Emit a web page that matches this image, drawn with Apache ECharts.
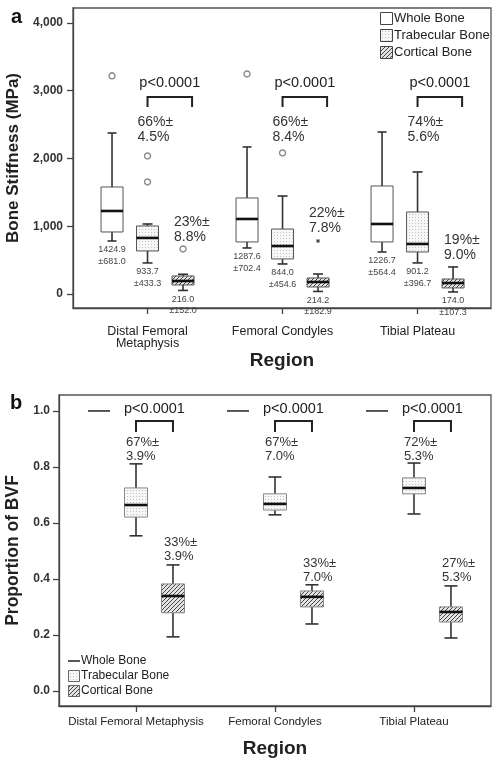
<!DOCTYPE html>
<html><head><meta charset="utf-8">
<script src="https://cdn.jsdelivr.net/npm/echarts@6/dist/echarts.min.js"></script>
<style>html,body{margin:0;padding:0;background:#fff}#c{width:500px;height:767px}</style>
</head><body><div id="c"></div>
<script>
// ---------------- DATA ----------------
const topCategories = ['Distal Femoral\nMetaphysis', 'Femoral Condyles', 'Tibial Plateau'];
const bottomCategories = ['Distal Femoral Metaphysis', 'Femoral Condyles', 'Tibial Plateau'];
const stiffnessTicks = [0, 1000, 2000, 3000, 4000];
const bvfTicks = [0, 0.2, 0.4, 0.6, 0.8, 1.0];
const groupNames = ['Whole Bone', 'Trabecular Bone', 'Cortical Bone'];

// box stats: [low whisker, q1, median, q3, high whisker]
const wholeStiffness = [[782, 915, 1225, 1579, 2376], [679, 768, 1107, 1417, 2170], [620, 768, 1033, 1594, 2391]];
const trabStiffness  = [[458, 635, 827, 1004, 1033], [443, 517, 708, 959, 1446], [458, 620, 738, 1210, 1801]];
const cortStiffness  = [[52, 133, 192, 266, 291], [37, 103, 177, 236, 295], [30, 89, 162, 221, 399]];

const wholeMean = [1424.9, 1287.6, 1226.7], wholeSD = [681.0, 702.4, 564.4];
const trabMean  = [933.7, 844.0, 901.2],   trabSD  = [433.3, 454.6, 396.7];
const cortMean  = [216.0, 214.2, 174.0],   cortSD  = [152.0, 182.9, 107.3];

// outliers: [category index, value]
const wholeOutliers = [[0, 3220], [1, 3247]];
const trabOutliers  = [[0, 2037], [0, 1653], [1, 2081]];
const cortOutliers  = [[0, 664]];
const cortExtremes  = [[1, 782]];

// percentages [mean %, sd %]
const trabPctStiff = [[66, 4.5], [66, 8.4], [74, 5.6]];
const cortPctStiff = [[23, 8.8], [22, 7.8], [19, 9.0]];
const pValues = ['p<0.0001', 'p<0.0001', 'p<0.0001'];

const wholeBVF = [1.0, 1.0, 1.0];
const trabBVF = [[0.554, 0.621, 0.664, 0.725, 0.811], [0.629, 0.646, 0.668, 0.704, 0.764], [0.632, 0.704, 0.725, 0.761, 0.814]];
const cortBVF = [[0.193, 0.279, 0.339, 0.382, 0.450], [0.239, 0.300, 0.336, 0.357, 0.379], [0.189, 0.246, 0.282, 0.300, 0.375]];
const trabPctBVF = [[67, 3.9], [67, 7.0], [72, 5.3]];
const cortPctBVF = [[33, 3.9], [33, 7.0], [27, 5.3]];

// ---------------- LAYOUT / STYLE ----------------
const FONT = '"Liberation Sans", Arial, sans-serif';
const OFF = 0.263;       // group offset in category units
const OFFB = 0.266;
// annotation anchors (data units)
const topAnno = { pY: 3114, brTop: 2908, brLeg: 2760, brRight: 0.33, trabY: 2539, cortY: [1063, 1195, 797], lh: 15, fs: 14 };
const botAnno = { pY: 1.007, brTop: 0.964, brLeg: 0.925, brRight: OFFB, trabY: 0.889, cortY: [0.529, 0.457, 0.457], lh: 14, fs: 13 };

function makePattern(kind) {
  const cv = document.createElement('canvas');
  if (kind === 'dots') {
    cv.width = 3; cv.height = 3;
    const c = cv.getContext('2d');
    c.fillStyle = '#f7f7f7'; c.fillRect(0, 0, 3, 3);
    c.fillStyle = '#c2c2c2'; c.fillRect(1, 1, 1, 1);
  } else {
    cv.width = 4; cv.height = 4;
    const c = cv.getContext('2d');
    c.fillStyle = '#e4e4e4'; c.fillRect(0, 0, 4, 4);
    c.strokeStyle = '#444'; c.lineWidth = 1;
    c.beginPath();
    c.moveTo(0, 4); c.lineTo(4, 0);
    c.moveTo(-1, 1); c.lineTo(1, -1);
    c.moveTo(3, 5); c.lineTo(5, 3);
    c.stroke();
  }
  return { image: cv, repeat: 'repeat' };
}
const DOTS = makePattern('dots');
const HATCH = makePattern('hatch');

function boxSeries(gi, stats, offset, o) {
  return {
    type: 'custom', xAxisIndex: gi, yAxisIndex: gi, clip: false, z: 3,
    data: stats.map((d, i) => [i, d[0], d[1], d[2], d[3], d[4]]),
    encode: { x: 0, y: [1, 2, 3, 4, 5] },
    renderItem: function (params, api) {
      const c = api.value(0) + offset;
      const pl = api.coord([c, api.value(1)]);
      const p1 = api.coord([c, api.value(2)]);
      const pm = api.coord([c, api.value(3)]);
      const p3 = api.coord([c, api.value(4)]);
      const ph = api.coord([c, api.value(5)]);
      const x = pl[0], hw = o.boxW / 2, hc = o.capW / 2;
      const ws = { stroke: o.whisker, lineWidth: o.wLW };
      const ch = [
        { type: 'line', shape: { x1: x, y1: ph[1], x2: x, y2: p3[1] }, style: ws },
        { type: 'line', shape: { x1: x, y1: p1[1], x2: x, y2: pl[1] }, style: ws },
        { type: 'line', shape: { x1: x - hc, y1: ph[1], x2: x + hc, y2: ph[1] }, style: ws },
        { type: 'line', shape: { x1: x - hc, y1: pl[1], x2: x + hc, y2: pl[1] }, style: ws },
        { type: 'rect', shape: { x: x - hw, y: p3[1], width: o.boxW, height: p1[1] - p3[1] }, style: { fill: o.fill, stroke: o.boxStroke, lineWidth: 1 } },
        { type: 'line', shape: { x1: x - hw, y1: pm[1], x2: x + hw, y2: pm[1] }, style: { stroke: '#111', lineWidth: 2.6 } }
      ];
      if (o.means) {
        const i = params.dataIndex;
        ch.push({ type: 'text', style: { text: o.means[i].toFixed(1) + '\n±' + o.sds[i].toFixed(1), x: x, y: pl[1] + 3, align: 'center', verticalAlign: 'top', fontSize: 9, lineHeight: 11.5, fontFamily: FONT, fill: '#444' } });
      }
      return { type: 'group', children: ch };
    }
  };
}

function annoSeries(gi, a, offset, trabPct, cortPct) {
  return {
    type: 'custom', xAxisIndex: gi, yAxisIndex: gi, clip: false, z: 4,
    data: [[0, a.pY], [1, a.pY], [2, a.pY]],
    encode: { x: 0, y: 1 },
    renderItem: function (params, api) {
      const i = params.dataIndex;
      const l = api.coord([i, a.brTop]);
      const r = api.coord([i + a.brRight, a.brTop]);
      const leg = api.coord([i, a.brLeg]);
      const pt = api.coord([i + a.brRight / 2, a.pY]);
      const tp = api.coord([i, a.trabY]);
      const cp = api.coord([i + offset, a.cortY[i]]);
      const ts = { fontSize: a.fs, fontFamily: FONT, fill: '#333', lineHeight: a.lh, align: 'left', verticalAlign: 'middle' };
      return { type: 'group', children: [
        { type: 'text', style: Object.assign({}, ts, { text: pValues[i], x: pt[0], y: pt[1], align: 'center', fontSize: 14.5, fill: '#222' }) },
        { type: 'polyline', shape: { points: [[l[0], leg[1]], [l[0], l[1]], [r[0], r[1]], [r[0], leg[1]]] }, style: { stroke: '#222', lineWidth: 2, fill: null } },
        { type: 'text', style: Object.assign({}, ts, { text: trabPct[i][0] + '%±\n' + trabPct[i][1].toFixed(1) + '%', x: tp[0] - 10, y: tp[1] - a.lh / 2, verticalAlign: 'top' }) },
        { type: 'text', style: Object.assign({}, ts, { text: cortPct[i][0] + '%±\n' + cortPct[i][1].toFixed(1) + '%', x: cp[0] - 9, y: cp[1] - a.lh / 2, verticalAlign: 'top' }) }
      ] };
    }
  };
}

function wholeLineSeries(gi, vals, offset) {
  return {
    type: 'custom', xAxisIndex: gi, yAxisIndex: gi, clip: false, z: 3,
    data: vals.map((v, i) => [i, v]),
    encode: { x: 0, y: 1 },
    renderItem: function (params, api) {
      const p = api.coord([api.value(0) + offset, api.value(1)]);
      return { type: 'line', shape: { x1: p[0] - 11, y1: p[1], x2: p[0] + 11, y2: p[1] }, style: { stroke: '#222', lineWidth: 1.5 } };
    }
  };
}

function outlierSeries(gi, pts, offset, symbol, size) {
  const circle = symbol === 'circle';
  return {
    type: 'scatter', xAxisIndex: gi, yAxisIndex: gi, z: 5,
    symbol: symbol, symbolSize: size, silent: true,
    itemStyle: { color: circle ? '#ffffff' : '#444', borderColor: circle ? '#8a8a8a' : '#444', borderWidth: circle ? 1.4 : 1, opacity: 1 },
    data: pts.map(d => [d[0] + offset, d[1]])
  };
}

const axisLineStyle = { show: true, onZero: false, lineStyle: { color: '#444', width: 1.3 } };
const tickStyle = { lineStyle: { color: '#444', width: 1.3 } };

const chart = echarts.init(document.getElementById('c'), null, { renderer: 'canvas', width: 500, height: 767 });
const option = {
  animation: false,
  backgroundColor: '#fff',
  grid: [
    { left: 73, top: 8, width: 418, height: 300, show: true, borderColor: '#555', borderWidth: 1.3, containLabel: false, outerBoundsMode: 'none' },
    { left: 59, top: 395, width: 432, height: 311, show: true, borderColor: '#555', borderWidth: 1.3, containLabel: false, outerBoundsMode: 'none' }
  ],
  xAxis: [
    { type: 'value', gridIndex: 0, min: -0.552, max: 2.544, axisLine: axisLineStyle, splitLine: { show: false },
      axisTick: Object.assign({ customValues: [0, 1, 2], length: 6 }, tickStyle),
      axisLabel: { customValues: [0, 1, 2], formatter: v => topCategories[Math.round(v)], margin: 17, fontSize: 12.5, lineHeight: 12.5, fontFamily: FONT, color: '#222' },
      name: 'Region', nameLocation: 'middle', nameGap: 41, nameTextStyle: { fontSize: 19, fontWeight: 'bold', fontFamily: FONT, color: '#222' } },
    { type: 'value', gridIndex: 1, min: -0.554, max: 2.554, axisLine: axisLineStyle, splitLine: { show: false },
      axisTick: Object.assign({ customValues: [0, 1, 2], length: 6 }, tickStyle),
      axisLabel: { customValues: [0, 1, 2], formatter: v => bottomCategories[Math.round(v)], margin: 10, fontSize: 11.5, fontFamily: FONT, color: '#222' },
      name: 'Region', nameLocation: 'middle', nameGap: 33, nameTextStyle: { fontSize: 19, fontWeight: 'bold', fontFamily: FONT, color: '#222' } }
  ],
  yAxis: [
    { type: 'value', gridIndex: 0, min: -207, max: 4221, axisLine: axisLineStyle, splitLine: { show: false },
      axisTick: Object.assign({ show: true, customValues: stiffnessTicks, length: 6 }, tickStyle),
      axisLabel: { customValues: stiffnessTicks, formatter: v => Math.round(v).toLocaleString('en-US'), margin: 10, fontSize: 12, fontWeight: 'bold', fontFamily: FONT, color: '#333' },
      name: 'Bone Stiffness (MPa)', nameLocation: 'middle', nameGap: 48, nameTextStyle: { fontSize: 17, fontWeight: 'bold', fontFamily: FONT, color: '#222' } },
    { type: 'value', gridIndex: 1, min: -0.054, max: 1.057, axisLine: axisLineStyle, splitLine: { show: false },
      axisTick: Object.assign({ show: true, customValues: bvfTicks, length: 6 }, tickStyle),
      axisLabel: { customValues: bvfTicks, formatter: v => v.toFixed(1), margin: 9, fontSize: 12, fontWeight: 'bold', fontFamily: FONT, color: '#333' },
      name: 'Proportion of BVF', nameLocation: 'middle', nameGap: 34, nameTextStyle: { fontSize: 17.5, fontWeight: 'bold', fontFamily: FONT, color: '#222' } }
  ],
  series: [
    boxSeries(0, wholeStiffness, -OFF, { boxW: 22, capW: 9, fill: '#fff', boxStroke: '#555', whisker: '#333', wLW: 1.6, means: wholeMean, sds: wholeSD }),
    boxSeries(0, trabStiffness, 0, { boxW: 22, capW: 10, fill: DOTS, boxStroke: '#555', whisker: '#333', wLW: 1.6, means: trabMean, sds: trabSD }),
    boxSeries(0, cortStiffness, OFF, { boxW: 22, capW: 10, fill: HATCH, boxStroke: '#555', whisker: '#333', wLW: 1.6, means: cortMean, sds: cortSD }),
    outlierSeries(0, wholeOutliers, -OFF, 'circle', 6),
    outlierSeries(0, trabOutliers, 0, 'circle', 6),
    outlierSeries(0, cortOutliers, OFF, 'circle', 6),
    outlierSeries(0, cortExtremes, OFF, 'path://M5,0L5,10M0,5L10,5M1.5,1.5L8.5,8.5M8.5,1.5L1.5,8.5', 4),
    annoSeries(0, topAnno, OFF, trabPctStiff, cortPctStiff),
    wholeLineSeries(1, wholeBVF, -OFFB),
    boxSeries(1, trabBVF, 0, { boxW: 23, capW: 13, fill: DOTS, boxStroke: '#888', whisker: '#333', wLW: 1.6 }),
    boxSeries(1, cortBVF, OFFB, { boxW: 23, capW: 13, fill: HATCH, boxStroke: '#888', whisker: '#333', wLW: 1.6 }),
    annoSeries(1, botAnno, OFFB, trabPctBVF, cortPctBVF)
  ],
  graphic: [
    { type: 'text', left: 11, top: 7, style: { text: 'a', fontSize: 20, fontWeight: 'bold', fontFamily: FONT, fill: '#111' } },
    { type: 'text', left: 10, top: 393, style: { text: 'b', fontSize: 20, fontWeight: 'bold', fontFamily: FONT, fill: '#111' } },
    // top legend
    { type: 'rect', shape: { x: 380.5, y: 12.5, width: 12, height: 12 }, style: { fill: '#fff', stroke: '#444', lineWidth: 1 } },
    { type: 'rect', shape: { x: 380.5, y: 29.5, width: 12, height: 12 }, style: { fill: DOTS, stroke: '#444', lineWidth: 1 } },
    { type: 'rect', shape: { x: 380.5, y: 46.5, width: 12, height: 12 }, style: { fill: HATCH, stroke: '#444', lineWidth: 1 } },
    { type: 'text', x: 394, y: 18.5, style: { text: groupNames[0], fontSize: 13, fontFamily: FONT, fill: '#222', verticalAlign: 'middle' } },
    { type: 'text', x: 394, y: 35.5, style: { text: groupNames[1], fontSize: 13, fontFamily: FONT, fill: '#222', verticalAlign: 'middle' } },
    { type: 'text', x: 394, y: 52.5, style: { text: groupNames[2], fontSize: 13, fontFamily: FONT, fill: '#222', verticalAlign: 'middle' } },
    // bottom legend
    { type: 'line', shape: { x1: 68, y1: 661, x2: 80, y2: 661 }, style: { stroke: '#222', lineWidth: 1.5 } },
    { type: 'rect', shape: { x: 68.5, y: 670.5, width: 11, height: 11 }, style: { fill: DOTS, stroke: '#666', lineWidth: 1 } },
    { type: 'rect', shape: { x: 68.5, y: 685.5, width: 11, height: 11 }, style: { fill: HATCH, stroke: '#666', lineWidth: 1 } },
    { type: 'text', x: 81, y: 661, style: { text: groupNames[0], fontSize: 12, fontFamily: FONT, fill: '#222', verticalAlign: 'middle' } },
    { type: 'text', x: 81, y: 676, style: { text: groupNames[1], fontSize: 12, fontFamily: FONT, fill: '#222', verticalAlign: 'middle' } },
    { type: 'text', x: 81, y: 691, style: { text: groupNames[2], fontSize: 12, fontFamily: FONT, fill: '#222', verticalAlign: 'middle' } }
  ]
};
chart.setOption(option);
</script></body></html>
